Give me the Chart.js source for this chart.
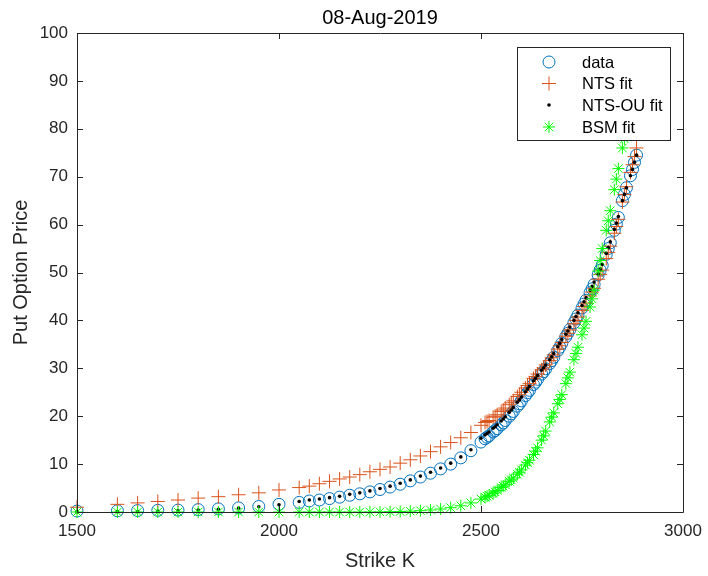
<!DOCTYPE html>
<html>
<head>
<meta charset="utf-8">
<title>08-Aug-2019</title>
<script src="https://cdn.jsdelivr.net/npm/chart.js@4.4.1/dist/chart.umd.min.js"></script>
<style>
  body { margin: 0; background: #ffffff; }
  #put_chart { display: block; }
</style>
</head>
<body>
<canvas id="put_chart" width="708" height="576"></canvas>
<script>

/**
 *
 * Data
 *
 */

const STRIKES = [
  1500, 1600, 1650, 1700, 1750, 1800, 1850, 1900, 1950, 2000,
  2050, 2075, 2100, 2125, 2150, 2175, 2200, 2225, 2250, 2275, 2300, 2325, 2350, 2375, 2400, 2425, 2450, 2475,
  2500, 2510, 2515, 2520, 2530, 2535, 2540, 2550, 2555, 2560, 2570, 2575, 2580, 2590, 2595, 2600,
  2610, 2615, 2620, 2630, 2635, 2640, 2650, 2655, 2660, 2670, 2675, 2680, 2690, 2695, 2700,
  2710, 2715, 2720, 2730, 2735, 2740, 2750, 2755, 2760, 2770, 2775, 2780, 2790, 2795, 2800,
  2810, 2815, 2820, 2830, 2835, 2840, 2850, 2855, 2860, 2870, 2875, 2880, 2885
];

const DATA_PRICE = [
  0.2, 0.25, 0.3, 0.35, 0.4, 0.5, 0.65, 0.85, 1.15, 1.6,
  2.0, 2.3, 2.5, 2.8, 3.1, 3.5, 3.8, 4.2, 4.7, 5.2, 5.8, 6.5, 7.3, 8.1, 9.0, 10.0, 11.3, 12.8,
  14.6, 15.3, 15.6, 15.9, 16.7, 17.0, 17.4, 18.2, 18.6, 19.1, 20.0, 20.5, 21.0, 22.1, 22.6, 23.2,
  24.3, 24.9, 25.4, 26.6, 27.1, 27.7, 28.8, 29.3, 29.9, 31.0, 31.6, 32.3, 33.7, 34.4, 35.2,
  36.6, 37.3, 38.1, 39.5, 40.3, 41.1, 42.6, 43.4, 44.2, 45.8, 46.6, 47.5, 49.5, 50.5, 51.5,
  53.8, 55.0, 56.2, 58.8, 60.1, 61.5, 65.0, 66.3, 67.7, 70.2, 71.5, 73.0, 74.5
];

const NTS_FIT = [
  1.0, 1.6, 1.9, 2.2, 2.5, 2.9, 3.2, 3.6, 4.0, 4.6,
  5.1, 5.4, 5.9, 6.4, 6.9, 7.3, 7.8, 8.4, 8.9, 9.4, 10.2, 10.9, 11.7, 12.6, 13.6, 14.5, 15.5, 16.6,
  18.1, 18.7, 18.9, 19.1, 19.8, 20.0, 20.3, 21.0, 21.3, 21.7, 22.4, 22.8, 23.2, 24.1, 24.5, 25.0,
  25.9, 26.4, 26.8, 27.9, 28.3, 28.8, 29.7, 30.1, 30.7, 31.6, 32.2, 32.8, 34.0, 34.7, 35.4,
  36.7, 37.3, 38.0, 39.3, 40.0, 40.7, 42.1, 42.9, 43.6, 45.1, 45.9, 46.7, 48.6, 49.6, 50.5,
  52.9, 54.2, 55.5, 58.2, 59.6, 61.1, 64.7, 66.3, 67.9, 70.9, 72.5, 74.2, 76.0
];

const NTS_OU_FIT = [
  0.05, 0.1, 0.12, 0.2, 0.3, 0.4, 0.55, 0.8, 1.1, 1.5,
  2.2, 2.5, 2.7, 3.0, 3.3, 3.7, 4.0, 4.4, 4.9, 5.4, 6.0, 6.7, 7.5, 8.3, 9.2, 10.2, 11.5, 13.0,
  15.4, 16.1, 16.4, 16.7, 17.5, 17.8, 18.2, 19.0, 19.4, 19.9, 20.8, 21.3, 21.8, 22.9, 23.4, 24.0,
  25.1, 25.7, 26.2, 27.4, 27.9, 28.5, 29.6, 30.1, 30.7, 31.8, 32.4, 33.1, 34.5, 35.2, 36.0,
  37.1, 37.8, 38.6, 40.0, 40.8, 41.6, 43.1, 43.9, 44.7, 46.3, 47.1, 48.0, 49.7, 50.7, 51.7,
  54.0, 55.2, 56.4, 59.0, 60.3, 61.7, 65.0, 66.3, 67.7, 70.2, 71.5, 73.0, 74.5
];

const BSM_FIT = [
  0, 0, 0, 0, 0, 0, 0, 0, 0, 0,
  0, 0, 0, 0, 0, 0, 0, 0.01, 0.03, 0.06, 0.1, 0.17, 0.28, 0.42, 0.62, 0.9, 1.3, 1.9,
  2.7, 3.1, 3.3, 3.5, 3.9, 4.2, 4.5, 5.1, 5.4, 5.7, 6.4, 6.7, 7.1, 7.9, 8.3, 8.8,
  9.8, 10.3, 10.8, 12.0, 12.7, 13.4, 15.0, 15.9, 16.9, 18.8, 19.8, 20.7, 22.6, 23.5, 24.5,
  26.8, 28.0, 29.2, 31.8, 33.1, 34.4, 37.0, 38.4, 39.8, 42.8, 44.5, 46.3, 50.3, 52.5, 55.0,
  58.8, 60.8, 62.9, 67.3, 69.5, 71.7, 76.0, 77.9, 79.8, 83.3, 85.0, 86.6, 88.0
];

const X_TICKS = [1500, 2000, 2500, 3000];
const Y_TICKS = [0, 10, 20, 30, 40, 50, 60, 70, 80, 90, 100];

const SERIES_NAMES = ['data', 'NTS fit', 'NTS-OU fit', 'BSM fit'];

const AXIS_COLOR = '#262626';
const FONT_FAMILY = '"Liberation Sans", Arial, Helvetica, sans-serif';

/**
 *
 *
 * Chart
 *
 *
 */
class PutPriceChart {

  /**
   * Constructor
   */
  constructor() {
    this.chart = null;
  }

  /**
   * Pair strikes with one price list
   * @param prices
   */
  toPoints(prices) {
    return STRIKES.map((k, i) => ({ x: k, y: prices[i] }));
  }

  /**
   * Build the four scatter series
   */
  buildDatasets() {
    return [
      {
        label: SERIES_NAMES[0],
        data: this.toPoints(DATA_PRICE),
        pointStyle: 'circle',
        pointRadius: 6,
        pointBorderWidth: 1,
        borderColor: '#0072BD',
        backgroundColor: 'rgba(0,0,0,0)',
        order: 4,
        clip: false
      },
      {
        label: SERIES_NAMES[1],
        data: this.toPoints(NTS_FIT),
        pointStyle: 'cross',
        pointRadius: 7,
        pointBorderWidth: 1,
        borderColor: '#D95319',
        backgroundColor: '#D95319',
        order: 3,
        clip: false
      },
      {
        label: SERIES_NAMES[2],
        data: this.toPoints(NTS_OU_FIT),
        pointStyle: 'circle',
        pointRadius: 1.8,
        pointBorderWidth: 0,
        borderColor: '#000000',
        backgroundColor: '#000000',
        order: 2,
        clip: false
      },
      {
        label: SERIES_NAMES[3],
        data: this.toPoints(BSM_FIT),
        pointStyle: 'star',
        pointRadius: 6,
        pointBorderWidth: 1,
        borderColor: '#00FF00',
        backgroundColor: '#00FF00',
        order: 1,
        clip: false
      }
    ];
  }

  /**
   * Box round the axes, with inward ticks on all four sides
   */
  boxPlugin() {
    return {
      id: 'matlabBox',
      afterDatasetsDraw(chart) {
        let ctx = chart.ctx;
        let area = chart.chartArea;
        let xs = chart.scales.x;
        let ys = chart.scales.y;
        let len = 6;
        ctx.save();
        ctx.strokeStyle = AXIS_COLOR;
        ctx.lineWidth = 1;
        ctx.beginPath();
        ctx.rect(Math.round(area.left) + 0.5, Math.round(area.top) + 0.5,
          Math.round(area.right - area.left), Math.round(area.bottom - area.top));
        X_TICKS.forEach(v => {
          let px = Math.round(xs.getPixelForValue(v)) + 0.5;
          ctx.moveTo(px, area.bottom);
          ctx.lineTo(px, area.bottom - len);
          ctx.moveTo(px, area.top);
          ctx.lineTo(px, area.top + len);
        });
        Y_TICKS.forEach(v => {
          let py = Math.round(ys.getPixelForValue(v)) + 0.5;
          ctx.moveTo(area.left, py);
          ctx.lineTo(area.left + len, py);
          ctx.moveTo(area.right, py);
          ctx.lineTo(area.right - len, py);
        });
        ctx.stroke();
        ctx.restore();
      }
    };
  }

  /**
   * Legend box drawn inside the axes, top right
   */
  legendPlugin() {
    let drawMarker = (ctx, ds, x, y) => {
      ctx.save();
      ctx.strokeStyle = ds.borderColor;
      ctx.fillStyle = ds.backgroundColor;
      ctx.lineWidth = 1;
      let r = ds.pointRadius;
      ctx.beginPath();
      if (ds.pointStyle === 'circle' && ds.pointBorderWidth > 0) {
        ctx.arc(x, y, r, 0, Math.PI * 2);
        ctx.stroke();
      } else if (ds.pointStyle === 'circle') {
        ctx.arc(x, y, r, 0, Math.PI * 2);
        ctx.fill();
      } else {
        ctx.moveTo(x - r, y); ctx.lineTo(x + r, y);
        ctx.moveTo(x, y - r); ctx.lineTo(x, y + r);
        if (ds.pointStyle === 'star') {
          let d = r * Math.SQRT1_2;
          ctx.moveTo(x - d, y - d); ctx.lineTo(x + d, y + d);
          ctx.moveTo(x - d, y + d); ctx.lineTo(x + d, y - d);
        }
        ctx.stroke();
      }
      ctx.restore();
    };

    return {
      id: 'insideLegend',
      afterDraw(chart) {
        let ctx = chart.ctx;
        let box = { left: 517, top: 47, width: 153, height: 93 };
        ctx.save();
        ctx.fillStyle = '#ffffff';
        ctx.fillRect(box.left, box.top, box.width, box.height);
        ctx.strokeStyle = AXIS_COLOR;
        ctx.lineWidth = 1;
        ctx.strokeRect(box.left + 0.5, box.top + 0.5, box.width, box.height);
        ctx.font = '16.5px ' + FONT_FAMILY;
        ctx.fillStyle = '#000000';
        ctx.textBaseline = 'middle';
        ctx.textAlign = 'left';
        let rows = [62, 83.5, 105, 127];
        chart.data.datasets.forEach((ds, i) => {
          drawMarker(ctx, ds, 549, rows[i]);
          ctx.fillText(ds.label, 582, rows[i] + 1);
        });
        ctx.restore();
      }
    };
  }

  /**
   * Draw Chart
   * @param chart_id
   */
  drawChart(chart_id) {
    let canvas_object = document.getElementById(chart_id);
    if (!canvas_object) {
      return;
    }

    this.chart = new Chart(canvas_object.getContext('2d'), {
      type: 'scatter',
      data: { datasets: this.buildDatasets() },
      options: {
        responsive: false,
        animation: false,
        layout: { padding: { left: 0, right: 25, top: 0, bottom: 0 } },
        plugins: {
          legend: { display: false },
          tooltip: { enabled: false },
          title: {
            display: true,
            text: '08-Aug-2019',
            fullSize: false,
            color: '#000000',
            font: { family: FONT_FAMILY, size: 20, weight: 'normal', lineHeight: 1.2 },
            padding: { top: 6, bottom: 3 }
          }
        },
        scales: {
          x: {
            type: 'linear',
            min: 1500,
            max: 3000,
            afterFit: (scale) => {
              scale.height = 64;
              scale.paddingLeft = 0;
              scale.paddingRight = 0;
            },
            afterBuildTicks: (scale) => { scale.ticks = X_TICKS.map(v => ({ value: v })); },
            grid: { display: false, drawTicks: false },
            border: { display: false },
            ticks: {
              color: AXIS_COLOR,
              padding: 9,
              maxRotation: 0,
              callback: (value) => String(value),
              font: { family: FONT_FAMILY, size: 17 }
            },
            title: {
              display: true,
              text: 'Strike K',
              color: AXIS_COLOR,
              font: { family: FONT_FAMILY, size: 20, lineHeight: 1.2 },
              padding: { top: 0, bottom: 3 }
            }
          },
          y: {
            type: 'linear',
            min: 0,
            max: 100,
            afterFit: (scale) => { scale.width = 77; },
            afterBuildTicks: (scale) => { scale.ticks = Y_TICKS.map(v => ({ value: v })); },
            grid: { display: false, drawTicks: false },
            border: { display: false },
            ticks: {
              color: AXIS_COLOR,
              padding: 9,
              callback: (value) => String(value),
              font: { family: FONT_FAMILY, size: 17 }
            },
            title: {
              display: true,
              text: 'Put Option Price',
              color: AXIS_COLOR,
              font: { family: FONT_FAMILY, size: 20, lineHeight: 1.2 },
              padding: { top: 9, bottom: 0 }
            }
          }
        }
      },
      plugins: [this.boxPlugin(), this.legendPlugin()]
    });
  }

}

//
//
// Draw the chart
let put_chart = new PutPriceChart();
put_chart.drawChart('put_chart');

</script>
</body>
</html>
